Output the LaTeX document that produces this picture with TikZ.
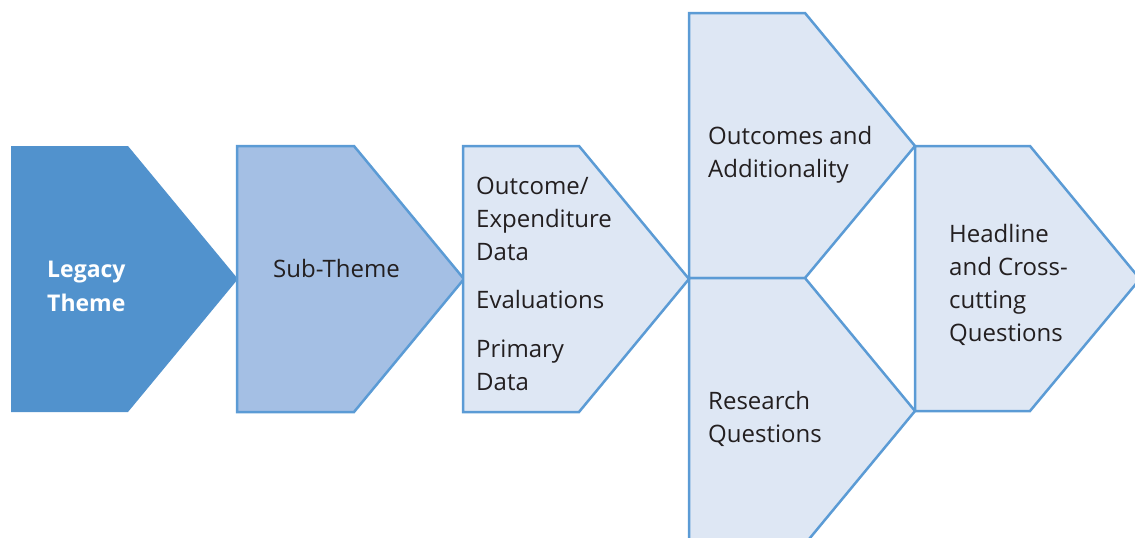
\documentclass[tikz,border=0pt]{standalone}
\usepackage{fontspec}
\setmainfont{Open Sans}
\usepackage{xcolor}

\definecolor{themeblue}{HTML}{5192CD}
\definecolor{subblue}{HTML}{A4BFE4}
\definecolor{paleblue}{HTML}{DEE7F4}
\definecolor{edgeblue}{HTML}{5B9BD5}
\definecolor{inktext}{HTML}{231F20}

\tikzset{
  subbox/.style={fill=subblue, draw=edgeblue, line width=2.5pt, line join=miter},
  palebox/.style={fill=paleblue, draw=edgeblue, line width=2.5pt, line join=miter},
  label/.style={font=\fontsize{24}{33}\selectfont, text=inktext, align=left, anchor=base west, inner sep=0pt}
}

\begin{document}
\begin{tikzpicture}[x=1pt, y=-1pt]
    \useasboundingbox (0,0) rectangle (1135,538);
    % chevrons
    \fill [themeblue] (11,146) -- (128,146) -- (238,279) -- (128,412) -- (11,412) -- cycle;
    \draw [subbox] (237,146) -- (354,146) -- (464,279) -- (354,412) -- (237,412) -- cycle;
    \draw [palebox] (463,146) -- (579,146) -- (689,279) -- (579,412) -- (463,412) -- cycle;
    \draw [palebox] (689,13) -- (805,13) -- (915,146) -- (805,278) -- (689,278) -- cycle;
    \draw [palebox] (689,278) -- (805,278) -- (915,411) -- (805,544) -- (689,544) -- cycle;
    \draw [palebox] (915,146) -- (1030,146) -- (1140,279) -- (1030,411) -- (915,411) -- cycle;
    % texts (anchored at the baseline of the last line)
    \node [label, text=white, font=\bfseries\fontsize{23}{34}\selectfont] (legacy) at (47,311) {Legacy\\Theme};
    \node [label] (sub) at (273,277) {Sub-Theme};
    \node [label] (data) at (476,260) {Outcome/\\Expenditure\\Data};
    \node [label] (eval) at (476,308) {Evaluations};
    \node [label] (primary) at (476,390) {Primary\\Data};
    \node [label] (outcomes) at (708,177) {Outcomes and\\Additionality};
    \node [label] (research) at (708,442) {Research\\Questions};
    \node [label] (headline) at (949,341) {Headline\\and Cross-\\cutting\\Questions};
\end{tikzpicture}
\end{document}
